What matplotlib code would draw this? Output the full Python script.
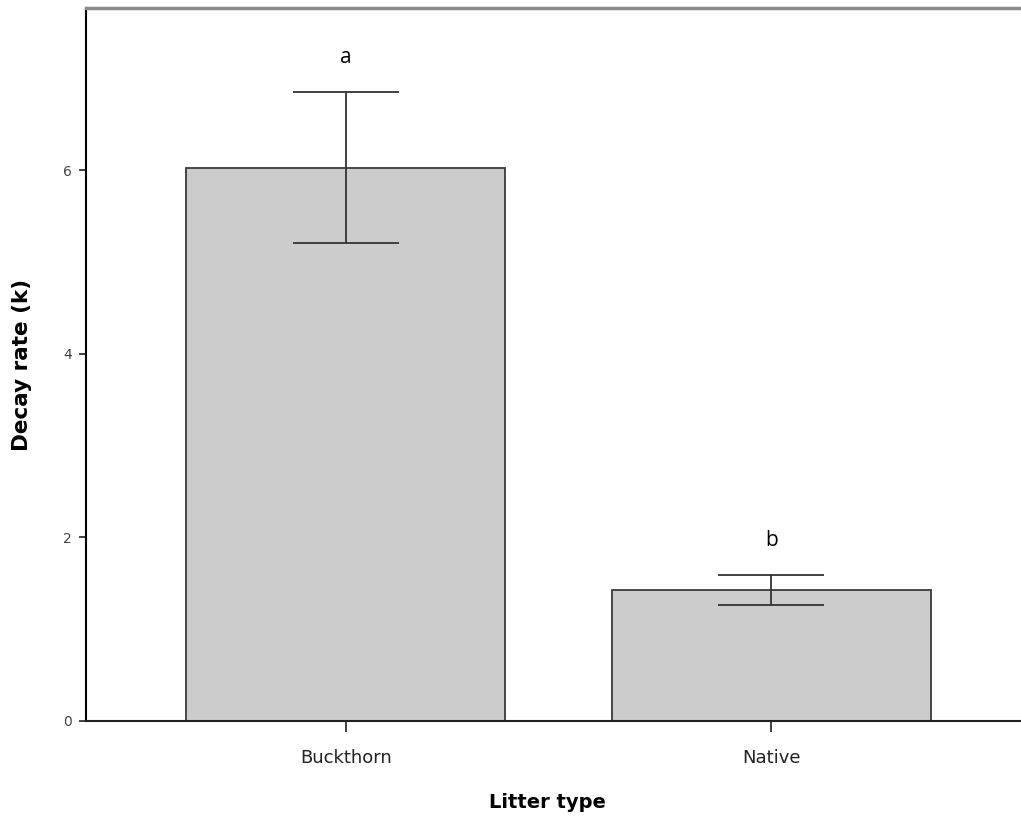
import matplotlib
matplotlib.use("Agg")
import matplotlib.pyplot as plt

# Mean litter decay rate (k) by litter type, with error bar half-widths
categories = ["Buckthorn", "Native"]
decay_rate = [6.03, 1.43]
error = [0.82, 0.165]
letters = ["a", "b"]
letter_y = [7.23, 1.97]
y_ticks = [0, 2, 4, 6]

fig = plt.figure(figsize=(10.21, 8.19), dpi=100)
W, H = 1021, 819
left, right, top, bottom = 86, 1031, 8, 721
ax = fig.add_axes([left / W, 1 - bottom / H, (right - left) / W, (bottom - top) / H])

x = list(range(len(categories)))
ax.bar(x, decay_rate, width=0.75, color="#cccccc", edgecolor="#3a3a3a",
       linewidth=1.3, zorder=2)
ax.errorbar(x, decay_rate, yerr=error, fmt="none", ecolor="#333333",
            elinewidth=1.3, capsize=38.5, capthick=1.3, zorder=3)

for xi, lab, ly in zip(x, letters, letter_y):
    ax.text(xi, ly, lab, ha="center", va="center", fontsize=15,
            family="Open Sans", color="black")

ax.set_xlim(-0.611, 1.611)
ax.set_ylim(0, 7.77)
ax.set_xticks(x)
ax.set_xticklabels(categories, fontsize=13, color="#222222")
ax.set_yticks(y_ticks)
ax.set_yticklabels([str(t) for t in y_ticks], fontsize=10, color="#444444")
ax.tick_params(axis="x", length=8, width=1.3, color="#333333", pad=12)
ax.tick_params(axis="y", length=5, width=1.3, color="#333333", pad=5)

ax.spines["right"].set_visible(False)
ax.spines["left"].set_linewidth(1.5)
ax.spines["left"].set_color("black")
ax.spines["bottom"].set_linewidth(1.5)
ax.spines["bottom"].set_color("#222222")
ax.spines["top"].set_linewidth(2.5)
ax.spines["top"].set_color("#8c8c8c")

ax.set_xlabel("Litter type", fontsize=14, fontweight="bold")
ax.set_ylabel("Decay rate (k)", fontsize=15.5, fontweight="bold")
ax.xaxis.set_label_coords((547 - left) / (right - left), -(803 - bottom) / (bottom - top))
ax.yaxis.set_label_coords(-(86 - 22) / (right - left), 0.5)
ax.xaxis.label.set_va("center")
ax.yaxis.label.set_va("center")

fig.savefig("out.png", dpi=100)
